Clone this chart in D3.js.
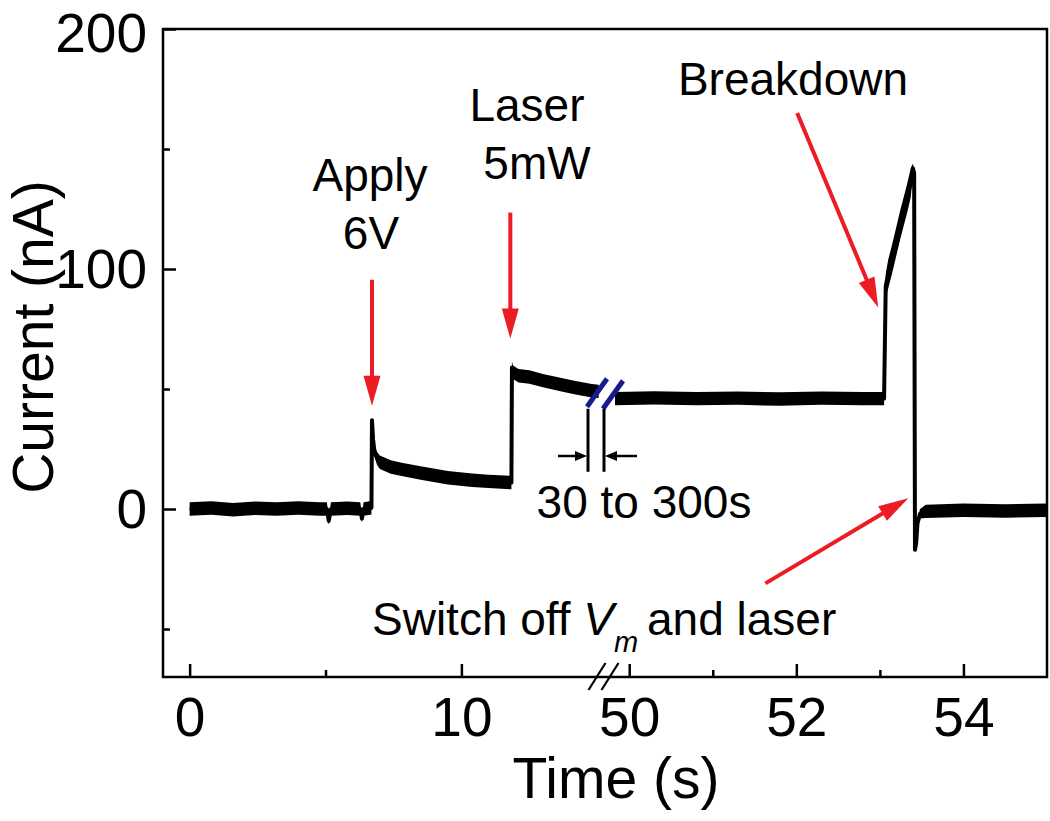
<!DOCTYPE html>
<html><head><meta charset="utf-8">
<script src="https://cdn.jsdelivr.net/npm/d3@7"></script>
<style>
body{margin:0;background:#fff}
svg{display:block}
text{font-family:"Liberation Sans",Arial,Helvetica,sans-serif;fill:#000}
</style>
</head><body>
<svg id="chart" width="1050" height="821"></svg>
<script>
// ---------------- data ----------------
// first segment of the broken time axis (0 .. ~15 s)
const timeSeg1 = [0, 0.8, 1.6, 2.4, 3.2, 4.0, 4.8, 5.05, 5.12, 5.2, 5.8, 6.28, 6.34, 6.4, 6.69, 6.71, 6.75, 6.8, 6.9, 7.0, 7.4, 7.8, 8.5, 9.5, 10.4, 11.0, 11.84, 11.86, 11.9, 12.1, 12.5, 13.0, 13.6, 14.2, 14.8, 15.05];
const currentSeg1 = [0, 0.4, -0.3, 0.3, 0, 0.4, 0, 0, -5, 0, 0.3, 0, -4, 0, 0.5, 37, 29, 24, 21, 19.5, 17.5, 16.5, 15, 13, 12, 11.5, 11, 59, 57, 55.5, 55, 53.5, 52, 50.5, 49.3, 49];
const noiseSeg1 = [2.8, 2.8, 2.8, 2.8, 2.8, 2.8, 2.8, 2.8, 1.5, 2.8, 2.8, 2.8, 1.5, 2.8, 2.8, 0.5, 1.5, 2.2, 2.8, 2.8, 2.8, 2.8, 2.8, 2.8, 2.8, 2.8, 2.8, 2.5, 2.8, 2.8, 2.8, 2.8, 2.8, 2.8, 2.8, 2.8];
// second segment (after the 30 to 300 s gap)
const timeSeg2 = [49.83, 50.3, 50.8, 51.3, 51.8, 52.3, 52.8, 53.05, 53.07, 53.1, 53.145, 53.2, 53.24, 53.3, 53.33, 53.37, 53.395, 53.41, 53.42, 53.435, 53.45, 53.48, 53.55, 54.0, 54.5, 55];
const currentSeg2 = [46, 46.3, 46, 46.2, 45.8, 46.2, 46, 46, 93, 98, 104, 112, 118, 126, 130, 136, 142, 140, -17, -14, -6, -2, -1, -0.5, -0.8, -0.5];
const noiseSeg2 = [2.8, 2.8, 2.8, 2.8, 2.8, 2.8, 2.8, 2.8, 5, 6, 6, 6, 6, 6, 6, 6, 2, 1, 0.5, 1, 1.5, 2, 2.8, 2.8, 2.8, 2.8];

const xMajorTicks1 = [0, 10];
const xMinorTicks1 = [5];
const xMajorTicks2 = [50, 52, 54];
const xMinorTicks2 = [51, 53];
const yMajorTicks = [0, 100, 200];
const yMinorTicks = [-50, 50, 150];
const xDomain1 = [-0.98, 15.1];
const xDomain2 = [49.77, 55];
const yDomain = [-70, 200];

// ---------------- layout ----------------
const L = 163, R = 1047, T = 29, B = 677, breakX = 605;
const svg = d3.select("#chart");
const x1 = d3.scaleLinear().domain(xDomain1).range([L, breakX - 5]);
const x2 = d3.scaleLinear().domain(xDomain2).range([breakX + 5, R]);
const y = d3.scaleLinear().domain(yDomain).range([B, T]);
const RED = "#ec1c24", BLUE = "#1a1a8f";

// ---------------- trace ----------------
function drawTrace(ts, cs, ns, xs) {
  const pts = ts.map((t, i) => ({t, c: cs[i], n: ns[i]}));
  svg.append("path").datum(pts)
    .attr("d", d3.area().x(d => xs(d.t)).y0(d => y(d.c - d.n)).y1(d => y(d.c + d.n)))
    .attr("fill", "#000");
  svg.append("path").datum(pts)
    .attr("d", d3.line().x(d => xs(d.t)).y(d => y(d.c)))
    .attr("fill", "none").attr("stroke", "#000").attr("stroke-width", 4)
    .attr("stroke-linejoin", "round");
}
drawTrace(timeSeg1, currentSeg1, noiseSeg1, x1);
drawTrace(timeSeg2, currentSeg2, noiseSeg2, x2);

// ---------------- axes ----------------
const axisW = 2.5;
function styleAxis(g, fs) {
  g.select(".domain").remove();
  g.selectAll("line").attr("stroke", "#000").attr("stroke-width", axisW);
  g.selectAll("text").attr("font-size", fs).attr("fill", "#000")
    .attr("font-family", '"Liberation Sans",Arial,sans-serif');
}
[[x1, xMajorTicks1, xMinorTicks1], [x2, xMajorTicks2, xMinorTicks2]].forEach(([sc, maj, mn]) => {
  svg.append("g").attr("transform", `translate(0,${B})`)
    .call(d3.axisBottom(sc).tickValues(maj).tickSize(-13).tickPadding(20).tickFormat(d3.format("d")))
    .call(g => styleAxis(g, 55));
  svg.append("g").attr("transform", `translate(0,${B})`)
    .call(d3.axisBottom(sc).tickValues(mn).tickSize(-7).tickFormat(""))
    .call(g => styleAxis(g, 55));
});
svg.append("g").attr("transform", `translate(${L},0)`)
  .call(d3.axisLeft(y).tickValues(yMajorTicks).tickSize(-13).tickPadding(16).tickFormat(d3.format("d")))
  .call(g => styleAxis(g, 55))
  .call(g => g.selectAll("text").attr("dy", d => d === 200 ? "0.4em" : "0.33em"));
svg.append("g").attr("transform", `translate(${L},0)`)
  .call(d3.axisLeft(y).tickValues(yMinorTicks).tickSize(-7).tickFormat(""))
  .call(g => styleAxis(g, 55));

// frame
svg.append("rect").attr("x", L).attr("y", T).attr("width", R - L).attr("height", B - T)
  .attr("fill", "none").attr("stroke", "#000").attr("stroke-width", axisW);

// axis break slashes on the x axis
[breakX - 8, breakX + 5].forEach(cx => {
  svg.append("line").attr("x1", cx - 8.5).attr("y1", B + 13).attr("x2", cx + 8.5).attr("y2", B - 14)
    .attr("stroke", "#000").attr("stroke-width", 2.2);
});

// axis titles
svg.append("text").attr("x", 616).attr("y", 798).attr("text-anchor", "middle")
  .attr("font-size", 57).text("Time (s)");
svg.append("text").attr("transform", "translate(53,337) rotate(-90)").attr("text-anchor", "middle")
  .attr("font-size", 57).text("Current (nA)");

// ---------------- data break marks (blue) + gap annotation ----------------
const yb = y(48);
[[breakX - 8, yb - 1], [breakX + 8, yb + 1]].forEach(([cx, cy]) => {
  svg.append("line").attr("x1", cx - 10).attr("y1", cy + 14).attr("x2", cx + 10).attr("y2", cy - 14)
    .attr("stroke", BLUE).attr("stroke-width", 5);
});
const gapL = breakX - 17, gapR = breakX - 1;
[gapL, gapR].forEach(xx => {
  svg.append("line").attr("x1", xx).attr("y1", yb + 15).attr("x2", xx).attr("y2", yb + 78)
    .attr("stroke", "#000").attr("stroke-width", 3);
});
function blackArrow(xs, xt, yy) {
  const dir = Math.sign(xt - xs);
  svg.append("line").attr("x1", xs).attr("y1", yy).attr("x2", xt - dir * 9).attr("y2", yy)
    .attr("stroke", "#000").attr("stroke-width", 2.5);
  svg.append("path").attr("d", `M${xt},${yy} L${xt - dir * 12},${yy - 5} L${xt - dir * 12},${yy + 5} Z`)
    .attr("fill", "#000");
}
blackArrow(558, gapL - 1, 456);
blackArrow(637, gapR + 1, 456);

// ---------------- red arrows ----------------
function redArrow(xs, ys, xt, yt) {
  const dx = xt - xs, dy = yt - ys, len = Math.hypot(dx, dy);
  const ux = dx / len, uy = dy / len, hl = 30, hw = 8.5;
  const bx = xt - ux * hl, by = yt - uy * hl;
  svg.append("line").attr("x1", xs).attr("y1", ys).attr("x2", bx + ux * 2).attr("y2", by + uy * 2)
    .attr("stroke", RED).attr("stroke-width", 4);
  svg.append("path")
    .attr("d", `M${xt},${yt} L${bx - uy * hw},${by + ux * hw} L${bx + uy * hw},${by - ux * hw} Z`)
    .attr("fill", RED);
}
redArrow(x1(6.71), y(95.5), x1(6.71), y(43));      // Apply 6V
redArrow(x1(11.8), y(123.5), x1(11.8), y(71));     // Laser
redArrow(x2(52.01), y(165), x2(52.98), y(84));     // Breakdown
redArrow(x2(51.63), y(-31), x2(53.34), y(4.5));    // Switch off

// ---------------- annotation texts ----------------
const AF = 46;
function label(txt, cx, by) {
  svg.append("text").attr("x", cx).attr("y", by).attr("text-anchor", "middle")
    .attr("font-size", AF).text(txt);
}
label("Apply", 370, 191);
label("6V", 371, 249);
label("Laser", 527, 121);
label("5mW", 537, 179);
label("Breakdown", 793, 95);
label("30 to 300s", 644, 518);

const sw = svg.append("text").attr("x", 372).attr("y", 635).attr("font-size", AF);
sw.append("tspan").text("Switch off ");
sw.append("tspan").attr("font-style", "italic").text("V");
sw.append("tspan").attr("font-style", "italic").attr("font-size", 29).attr("dx", 0).attr("dy", 17).text("m");
sw.append("tspan").attr("dy", -17).attr("dx", -4).text(" and laser");
</script>
</body></html>
